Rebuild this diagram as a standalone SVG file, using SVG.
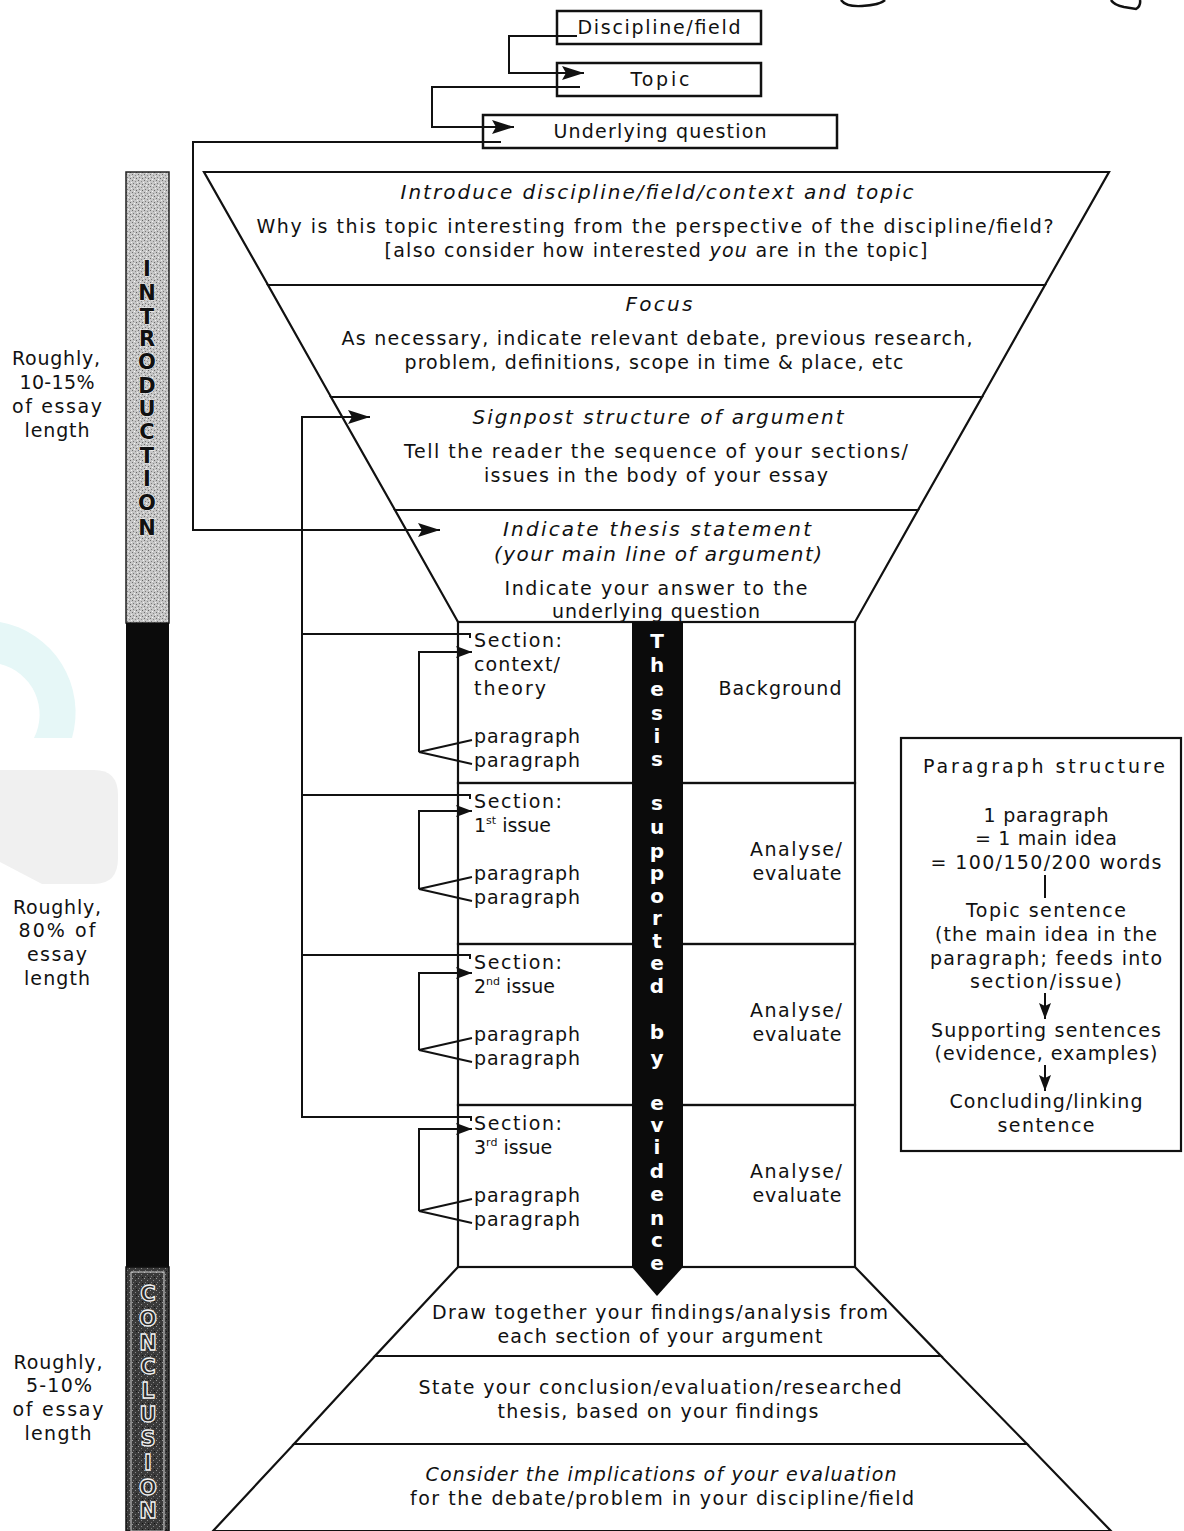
<svg xmlns="http://www.w3.org/2000/svg" width="1184" height="1531" viewBox="0 0 1184 1531">
<defs>
<style>
.ln{fill:none;stroke:#111;stroke-width:2}
.bx{fill:none;stroke:#111;stroke-width:2.5}
.band{fill:none;stroke:#111;stroke-width:2.2;stroke-linejoin:miter}
.tx{font-family:"DejaVu Sans","Liberation Sans",sans-serif;font-size:19px;fill:#111;text-anchor:middle}
.it{font-style:italic;font-size:20px}
.lf{text-anchor:start}
.wl{font-family:"DejaVu Sans",sans-serif;font-size:20px;font-weight:bold;fill:#fff;text-anchor:middle}
.il{font-family:"DejaVu Sans",sans-serif;font-size:21px;font-weight:bold;fill:#111;stroke:#eee;stroke-width:1.2;paint-order:stroke;text-anchor:middle}
.cl{font-family:"DejaVu Sans",sans-serif;font-size:21px;font-weight:bold;fill:#2a2a2a;stroke:#f2f2f2;stroke-width:1.3;text-anchor:middle}
</style>
<marker id="ar" markerUnits="userSpaceOnUse" markerWidth="24" markerHeight="14" refX="22" refY="7" orient="auto">
<path d="M0,0 L22,7 L0,14 L4,7 Z" fill="#111"/>
</marker>
<marker id="as" markerUnits="userSpaceOnUse" markerWidth="18" markerHeight="12" refX="16" refY="6" orient="auto">
<path d="M0,0 L16,6 L0,12 L3,6 Z" fill="#111"/>
</marker>
<pattern id="stip" width="6" height="6" patternUnits="userSpaceOnUse">
<rect width="6" height="6" fill="#c6c6c6"/>
<rect x="0" y="0" width="1" height="1" fill="#6f6f6f"/>
<rect x="3" y="1" width="1" height="1" fill="#8a8a8a"/>
<rect x="1" y="3" width="1" height="1" fill="#7a7a7a"/>
<rect x="4" y="4" width="1" height="1" fill="#666"/>
<rect x="2" y="5" width="1" height="1" fill="#f4f4f4"/>
<rect x="5" y="2" width="1" height="1" fill="#f0f0f0"/>
</pattern>
<pattern id="dstip" width="6" height="6" patternUnits="userSpaceOnUse">
<rect width="6" height="6" fill="#3a3a3a"/>
<rect x="0" y="0" width="1" height="1" fill="#9a9a9a"/>
<rect x="3" y="2" width="1" height="1" fill="#8a8a8a"/>
<rect x="1" y="4" width="1" height="1" fill="#777"/>
<rect x="4" y="5" width="1" height="1" fill="#111"/>
</pattern>
</defs>

<rect x="0" y="0" width="1184" height="1531" fill="#fff"/>

<!-- faint background logo shapes -->
<g id="background-marks">
<path d="M0,622 A92,92 0 0 1 72,738 L34,738 A52,52 0 0 0 0,664 Z" fill="#e6f7f7"/>
<path d="M0,770 H94 Q118,770 118,795 V858 Q118,884 94,884 H42 L0,862 Z" fill="#f0f0f0"/>
</g>

<!-- top scribble fragments -->
<path d="M841,0 Q846,7 862,6 Q880,5 885,0" fill="none" stroke="#111" stroke-width="2.5"/>
<path d="M1111,0 Q1114,5 1124,7 L1136,9 Q1141,6 1140,0" fill="none" stroke="#111" stroke-width="2.5"/>

<!-- left bar -->
<g id="side-bar">
<rect x="126" y="172" width="43" height="451" fill="url(#stip)" stroke="#222" stroke-width="1.5"/>
<rect x="126" y="623" width="43" height="644" fill="#0b0b0b"/>
<rect x="126" y="1267" width="43" height="264" fill="url(#dstip)" stroke="#111" stroke-width="1.5"/>
<rect x="131" y="1272" width="33" height="259" fill="none" stroke="#d8d8d8" stroke-width="1"/>
<text class="il"><tspan x="147" y="276">I</tspan><tspan x="147" y="300">N</tspan><tspan x="147" y="324">T</tspan><tspan x="147" y="346">R</tspan><tspan x="147" y="369">O</tspan><tspan x="147" y="393">D</tspan><tspan x="147" y="416">U</tspan><tspan x="147" y="439">C</tspan><tspan x="147" y="463">T</tspan><tspan x="147" y="486">I</tspan><tspan x="147" y="510">O</tspan><tspan x="147" y="535">N</tspan></text>
<text class="cl"><tspan x="148" y="1301">C</tspan><tspan x="148" y="1326">O</tspan><tspan x="148" y="1350">N</tspan><tspan x="148" y="1374">C</tspan><tspan x="148" y="1398">L</tspan><tspan x="148" y="1422">U</tspan><tspan x="148" y="1446">S</tspan><tspan x="148" y="1470">I</tspan><tspan x="148" y="1495">O</tspan><tspan x="148" y="1518">N</tspan></text>
</g>

<!-- left labels -->
<g id="label-intro">
<text class="tx" x="56" y="365" textLength="88">Roughly,</text>
<text class="tx" x="57" y="389" textLength="75">10-15%</text>
<text class="tx" x="57" y="413" textLength="90">of essay</text>
<text class="tx" x="57" y="437" textLength="65">length</text>
</g>
<g id="label-body">
<text class="tx" x="57" y="914" textLength="88">Roughly,</text>
<text class="tx" x="57" y="937" textLength="77">80% of</text>
<text class="tx" x="57" y="961" textLength="60">essay</text>
<text class="tx" x="57" y="985" textLength="66">length</text>
</g>
<g id="label-conclusion">
<text class="tx" x="58" y="1369" textLength="89">Roughly,</text>
<text class="tx" x="59" y="1392" textLength="66">5-10%</text>
<text class="tx" x="58" y="1416" textLength="91">of essay</text>
<text class="tx" x="58" y="1440" textLength="67">length</text>
</g>

<!-- top boxes -->
<g id="n-discipline">
<rect class="bx" x="557" y="11" width="204" height="33"/>
<text class="tx" x="659" y="34" textLength="163">Discipline/field</text>
</g>
<g id="n-topic">
<rect class="bx" x="557" y="63" width="204" height="33"/>
<text class="tx" x="660" y="86" textLength="59">Topic</text>
</g>
<g id="n-question">
<rect class="bx" x="483" y="115" width="354" height="33"/>
<text class="tx" x="660" y="138" textLength="213">Underlying question</text>
</g>

<!-- introduction funnel -->
<g id="n-introduce">
<polygon class="band" points="204,172 1109,172 1045,285 268,285"/>
<text class="tx it" x="657" y="199" textLength="513">Introduce discipline/field/context and topic</text>
<text class="tx" x="655" y="233" textLength="797">Why is this topic interesting from the perspective of the discipline/field?</text>
<text class="tx" x="656" y="257" textLength="543">[also consider how interested <tspan font-style="italic">you</tspan> are in the topic]</text>
</g>
<g id="n-focus">
<polygon class="band" points="268,285 1045,285 982,397 331,397"/>
<text class="tx it" x="659" y="311" textLength="67">Focus</text>
<text class="tx" x="657" y="345" textLength="631">As necessary, indicate relevant debate, previous research,</text>
<text class="tx" x="654" y="369" textLength="499">problem, definitions, scope in time &amp; place, etc</text>
</g>
<g id="n-signpost">
<polygon class="band" points="331,397 982,397 918,510 395,510"/>
<text class="tx it" x="658" y="424" textLength="371">Signpost structure of argument</text>
<text class="tx" x="656" y="458" textLength="504">Tell the reader the sequence of your sections/</text>
<text class="tx" x="656" y="482" textLength="344">issues in the body of your essay</text>
</g>
<g id="n-thesis">
<polygon class="band" points="395,510 918,510 855,622 458,622"/>
<text class="tx it" x="657" y="536" textLength="308">Indicate thesis statement</text>
<text class="tx it" x="658" y="561" textLength="328">(your main line of argument)</text>
<text class="tx" x="656" y="595" textLength="303">Indicate your answer to the</text>
<text class="tx" x="656" y="618" textLength="208">underlying question</text>
</g>

<!-- body sections -->
<g id="n-section-context">
<rect class="band" x="458" y="622" width="397" height="161"/>
<text class="tx lf" x="474" y="647" textLength="88">Section:</text>
<text class="tx lf" x="474" y="671" textLength="86">context/</text>
<text class="tx lf" x="474" y="695" textLength="72">theory</text>
<text class="tx lf" x="474" y="743" textLength="106">paragraph</text>
<text class="tx lf" x="474" y="767" textLength="106">paragraph</text>
<text class="tx" x="780" y="695" textLength="123">Background</text>
</g>
<g id="n-section-1">
<rect class="band" x="458" y="783" width="397" height="161"/>
<text class="tx lf" x="474" y="808" textLength="88">Section:</text>
<text class="tx lf" x="474" y="832">1<tspan font-size="11" baseline-shift="8">st</tspan> issue</text>
<text class="tx lf" x="474" y="880" textLength="106">paragraph</text>
<text class="tx lf" x="474" y="904" textLength="106">paragraph</text>
<text class="tx" x="796" y="856" textLength="92">Analyse/</text>
<text class="tx" x="797" y="880" textLength="89">evaluate</text>
</g>
<g id="n-section-2">
<rect class="band" x="458" y="944" width="397" height="161"/>
<text class="tx lf" x="474" y="969" textLength="88">Section:</text>
<text class="tx lf" x="474" y="993">2<tspan font-size="11" baseline-shift="8">nd</tspan> issue</text>
<text class="tx lf" x="474" y="1041" textLength="106">paragraph</text>
<text class="tx lf" x="474" y="1065" textLength="106">paragraph</text>
<text class="tx" x="796" y="1017" textLength="92">Analyse/</text>
<text class="tx" x="797" y="1041" textLength="89">evaluate</text>
</g>
<g id="n-section-3">
<rect class="band" x="458" y="1105" width="397" height="162"/>
<text class="tx lf" x="474" y="1130" textLength="88">Section:</text>
<text class="tx lf" x="474" y="1154">3<tspan font-size="11" baseline-shift="8">rd</tspan> issue</text>
<text class="tx lf" x="474" y="1202" textLength="106">paragraph</text>
<text class="tx lf" x="474" y="1226" textLength="106">paragraph</text>
<text class="tx" x="796" y="1178" textLength="92">Analyse/</text>
<text class="tx" x="797" y="1202" textLength="89">evaluate</text>
</g>

<!-- conclusion funnel -->
<g id="n-draw-together">
<polygon class="band" points="458,1267 855,1267 941,1356 375,1356"/>
<text class="tx" x="660" y="1319" textLength="456">Draw together your findings/analysis from</text>
<text class="tx" x="660" y="1343" textLength="325">each section of your argument</text>
</g>
<g id="n-state-conclusion">
<polygon class="band" points="375,1356 941,1356 1027,1444 294,1444"/>
<text class="tx" x="660" y="1394" textLength="483">State your conclusion/evaluation/researched</text>
<text class="tx" x="658" y="1418" textLength="321">thesis, based on your findings</text>
</g>
<g id="n-implications">
<polygon class="band" points="294,1444 1027,1444 1111,1531 213,1531"/>
<text class="tx" x="661" y="1481" textLength="471" font-style="italic">Consider the implications of your evaluation</text>
<text class="tx" x="662" y="1505" textLength="504">for the debate/problem in your discipline/field</text>
</g>

<!-- thesis bar -->
<g id="n-thesis-bar">
<polygon points="632,622 683,622 683,1267 657,1296 632,1267" fill="#0b0b0b"/>
<text class="wl"><tspan x="657" y="648">T</tspan><tspan x="657" y="672">h</tspan><tspan x="657" y="696">e</tspan><tspan x="657" y="720">s</tspan><tspan x="657" y="743">i</tspan><tspan x="657" y="766">s</tspan><tspan x="657" y="788"> </tspan><tspan x="657" y="810">s</tspan><tspan x="657" y="834">u</tspan><tspan x="657" y="858">p</tspan><tspan x="657" y="880">p</tspan><tspan x="657" y="903">o</tspan><tspan x="657" y="925">r</tspan><tspan x="657" y="948">t</tspan><tspan x="657" y="970">e</tspan><tspan x="657" y="993">d</tspan><tspan x="657" y="1016"> </tspan><tspan x="657" y="1039">b</tspan><tspan x="657" y="1065">y</tspan><tspan x="657" y="1088"> </tspan><tspan x="657" y="1110">e</tspan><tspan x="657" y="1132">v</tspan><tspan x="657" y="1154">i</tspan><tspan x="657" y="1178">d</tspan><tspan x="657" y="1201">e</tspan><tspan x="657" y="1225">n</tspan><tspan x="657" y="1247">c</tspan><tspan x="657" y="1270">e</tspan></text>
</g>

<!-- paragraph structure box -->
<g id="n-paragraph-structure">
<rect x="901" y="738" width="280" height="413" fill="none" stroke="#111" stroke-width="2.2"/>
<text class="tx" x="1044" y="773" textLength="242">Paragraph structure</text>
<text class="tx" x="1046" y="822" textLength="125">1 paragraph</text>
<text class="tx" x="1046" y="845" textLength="142">= 1 main idea</text>
<text class="tx" x="1046" y="869" textLength="231">= 100/150/200 words</text>
<line class="ln" x1="1045" y1="875" x2="1045" y2="898"/>
<text class="tx" x="1046" y="917" textLength="160">Topic sentence</text>
<text class="tx" x="1046" y="941" textLength="222">(the main idea in the</text>
<text class="tx" x="1046" y="965" textLength="232">paragraph; feeds into</text>
<text class="tx" x="1046" y="988" textLength="152">section/issue)</text>
<line class="ln" x1="1045" y1="993" x2="1045" y2="1019" marker-end="url(#as)"/>
<text class="tx" x="1046" y="1037" textLength="230">Supporting sentences</text>
<text class="tx" x="1046" y="1060" textLength="223">(evidence, examples)</text>
<line class="ln" x1="1045" y1="1065" x2="1045" y2="1091" marker-end="url(#as)"/>
<text class="tx" x="1046" y="1108" textLength="193">Concluding/linking</text>
<text class="tx" x="1046" y="1132" textLength="97">sentence</text>
</g>

<!-- connectors -->
<g id="connectors">
<path class="ln" d="M577,36 H509 V73 H584" marker-end="url(#ar)"/>
<path class="ln" d="M580,87 H432 V127 H514" marker-end="url(#ar)"/>
<path class="ln" d="M501,142 H193 V530 H440" marker-end="url(#ar)"/>
<path class="ln" d="M471,1121 V1117 H302 V417 H370" marker-end="url(#ar)"/>
<path class="ln" d="M302,634 H470 V638"/>
<path class="ln" d="M302,795 H470 V799"/>
<path class="ln" d="M302,955 H470 V959"/>
<path class="ln" d="M419,752 V652 H472" marker-end="url(#as)"/>
<path class="ln" d="M472,740 L419,752 L472,764"/>
<path class="ln" d="M419,889 V811 H472" marker-end="url(#as)"/>
<path class="ln" d="M472,877 L419,889 L472,901"/>
<path class="ln" d="M419,1050 V973 H472" marker-end="url(#as)"/>
<path class="ln" d="M472,1038 L419,1050 L472,1062"/>
<path class="ln" d="M419,1211 V1129 H472" marker-end="url(#as)"/>
<path class="ln" d="M472,1199 L419,1211 L472,1223"/>
</g>
</svg>
